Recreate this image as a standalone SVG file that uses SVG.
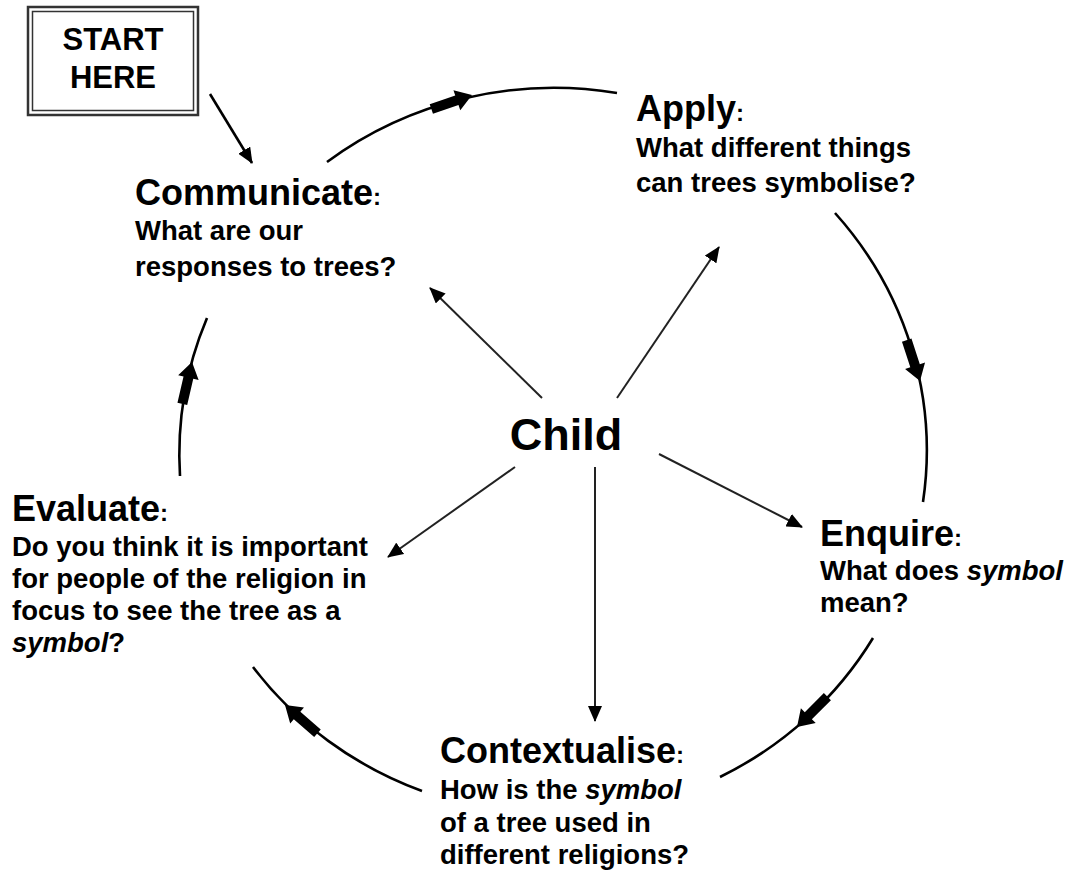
<svg xmlns="http://www.w3.org/2000/svg" width="1074" height="872" viewBox="0 0 1074 872">
<style>
text{font-family:"Liberation Sans",Arial,sans-serif;font-weight:bold;fill:#000}
.h{font-size:36px}
.c{font-size:24px}
.b{font-size:27.5px}
.i{font-style:italic}
.arc{fill:none;stroke:#000;stroke-width:2.6}
.ray{stroke:#222;stroke-width:2;fill:none;marker-end:url(#ah)}
</style>
<defs>
<marker id="ah" viewBox="0 0 16 14" refX="15" refY="7" markerWidth="16" markerHeight="14" markerUnits="userSpaceOnUse" orient="auto">
<path d="M0,0 L16,7 L0,14 Z" fill="#000"/>
</marker>
<marker id="ah2" viewBox="0 0 16 14" refX="15" refY="7" markerWidth="16" markerHeight="14" markerUnits="userSpaceOnUse" orient="auto">
<path d="M0,0 L16,7 L0,14 Z" fill="#000"/>
</marker>
<path id="blk" d="M-43,-5 L-16,-5 L-16,-10.5 L0,0 L-16,10.5 L-16,5 L-43,5 Z" fill="#000"/>
</defs>
<rect width="1074" height="872" fill="#fff"/>

<g id="connectors">
<path class="arc" d="M327,162 A374,362 0 0 1 617,93"/>
<path class="arc" d="M835,213 A374,362 0 0 1 923,502"/>
<path class="arc" d="M873,638 A374,362 0 0 1 720,777"/>
<path class="arc" d="M422,791 A374,362 0 0 1 253,667"/>
<path class="arc" d="M180,476 A374,362 0 0 1 207,318"/>
<use href="#blk" transform="translate(472,95) rotate(-19)"/>
<use href="#blk" transform="translate(920,381) rotate(72)"/>
<use href="#blk" transform="translate(797,727) rotate(135)"/>
<use href="#blk" transform="translate(285,705) rotate(-139)"/>
<use href="#blk" transform="translate(192,362) rotate(-77)"/>
<line class="ray" x1="542" y1="398" x2="430" y2="288"/>
<line class="ray" x1="617" y1="398" x2="719" y2="247"/>
<line class="ray" x1="659" y1="454" x2="802" y2="527"/>
<line class="ray" x1="595" y1="467" x2="595" y2="721"/>
<line class="ray" x1="515" y1="467" x2="388" y2="557"/>
<line x1="210" y1="94" x2="252" y2="163" stroke="#000" stroke-width="2.6" marker-end="url(#ah2)"/>
</g>

<g id="start">
<rect x="28" y="7" width="170" height="108" fill="#fff" stroke="#333" stroke-width="2.5"/>
<rect x="32.5" y="11.5" width="161" height="99" fill="none" stroke="#333" stroke-width="1.5"/>
<text x="113" y="50" font-size="31" text-anchor="middle">START</text>
<text x="113" y="88" font-size="31" text-anchor="middle">HERE</text>
</g>

<g id="child">
<text x="566" y="450" font-size="45" text-anchor="middle">Child</text>
</g>

<g id="communicate">
<text x="135" y="205"><tspan class="h">Communicate</tspan><tspan class="c">:</tspan></text>
<text class="b" x="135" y="240">What are our</text>
<text class="b" x="135" y="276">responses to trees?</text>
</g>

<g id="apply">
<text x="636" y="121"><tspan class="h">Apply</tspan><tspan class="c">:</tspan></text>
<text class="b" x="636" y="157">What different things</text>
<text class="b" x="636" y="192">can trees symbolise?</text>
</g>

<g id="enquire">
<text x="820" y="546"><tspan class="h">Enquire</tspan><tspan class="c">:</tspan></text>
<text class="b" x="820" y="580">What does <tspan class="i">symbol</tspan></text>
<text class="b" x="820" y="612">mean?</text>
</g>

<g id="contextualise">
<text x="440" y="763"><tspan class="h">Contextualise</tspan><tspan class="c">:</tspan></text>
<text class="b" x="440" y="799">How is the <tspan class="i">symbol</tspan></text>
<text class="b" x="440" y="832">of a tree used in</text>
<text class="b" x="440" y="864">different religions?</text>
</g>

<g id="evaluate">
<text x="12" y="521"><tspan class="h">Evaluate</tspan><tspan class="c">:</tspan></text>
<text class="b" x="12" y="556">Do you think it is important</text>
<text class="b" x="12" y="588">for people of the religion in</text>
<text class="b" x="12" y="620">focus to see the tree as a</text>
<text class="b" x="12" y="652"><tspan class="i">symbol</tspan>?</text>
</g>
</svg>
